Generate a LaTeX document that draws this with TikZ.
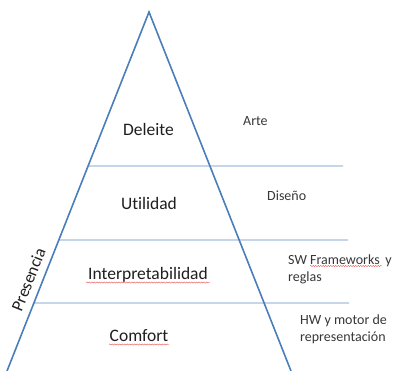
\documentclass[tikz,border=0pt]{standalone}
\usepackage{fontspec}
\setmainfont{Carlito}[Ligatures=NoCommon]
\usetikzlibrary{
    positioning,
    calc,
    decorations.pathmorphing
}
\definecolor{EdgeBlue}{RGB}{74,126,187}
\definecolor{LevelBlue}{RGB}{167,191,222}
\definecolor{TextDark}{RGB}{30,30,30}
\definecolor{NoteGray}{RGB}{55,55,55}
\definecolor{SpellRed}{RGB}{230,80,80}

\begin{document}
\begin{tikzpicture}[
    x=1pt, y=-1pt,
    level/.style={font=\fontsize{17.5}{20}\selectfont, text=TextDark, anchor=base, inner sep=0pt},
    note/.style={font=\fontsize{14}{17}\selectfont, text=NoteGray, anchor=base west, align=left, inner sep=0pt},
    divider/.style={LevelBlue, line width=1.2pt},
    squiggle/.style={SpellRed, line width=0.4pt, decorate, decoration={snake, amplitude=0.6pt, segment length=2.5pt}},
]
    \useasboundingbox (0,0) rectangle (393,371);

    % Pyramid corners
    \coordinate (apex) at (149,12);
    \coordinate (bl) at (7,371);
    \coordinate (br) at (291,371);

    % Level dividers
    \draw[divider] ($(apex)!0.429!(bl)$) -- (343,166);
    \draw[divider] ($(apex)!0.635!(bl)$) -- (348,240);
    \draw[divider] ($(apex)!0.8106!(bl)$) -- (349,303);

    % Pyramid outline
    \draw[EdgeBlue, line width=1.6pt] (bl) -- (apex) -- (br);

    % Levels
    \node[level] (deleite) at (148.5,136) {Deleite};
    \node[level] (utilidad) at (149,210) {Utilidad};
    \node[level] (interp) at (148,279) {Interpretabilidad};
    \node[level] (comfort) at (139,341) {Comfort};

    % Notes on the right (base = last line)
    \node[note] (arte) at (243,126) {Arte};
    \node[note] (diseno) at (267,201) {Diseño};
    \node[note] (sw) at (288,281) {SW Frameworks\, y\\reglas};
    \node[note] (hw) at (300,341) {HW y motor de\\representación};

    % Side label
    \node[font=\fontsize{17}{20}\selectfont, text=TextDark, rotate=68.4, inner sep=0pt]
        (presencia) at (28.5,279.5) {Presencia};

    % Spell check marks
    \draw[squiggle] (86,282.5) -- (210,282.5);
    \draw[squiggle] (109,344.5) -- (169,344.5);
    \draw[squiggle] (310,266) -- (382,266);

\end{tikzpicture}
\end{document}
